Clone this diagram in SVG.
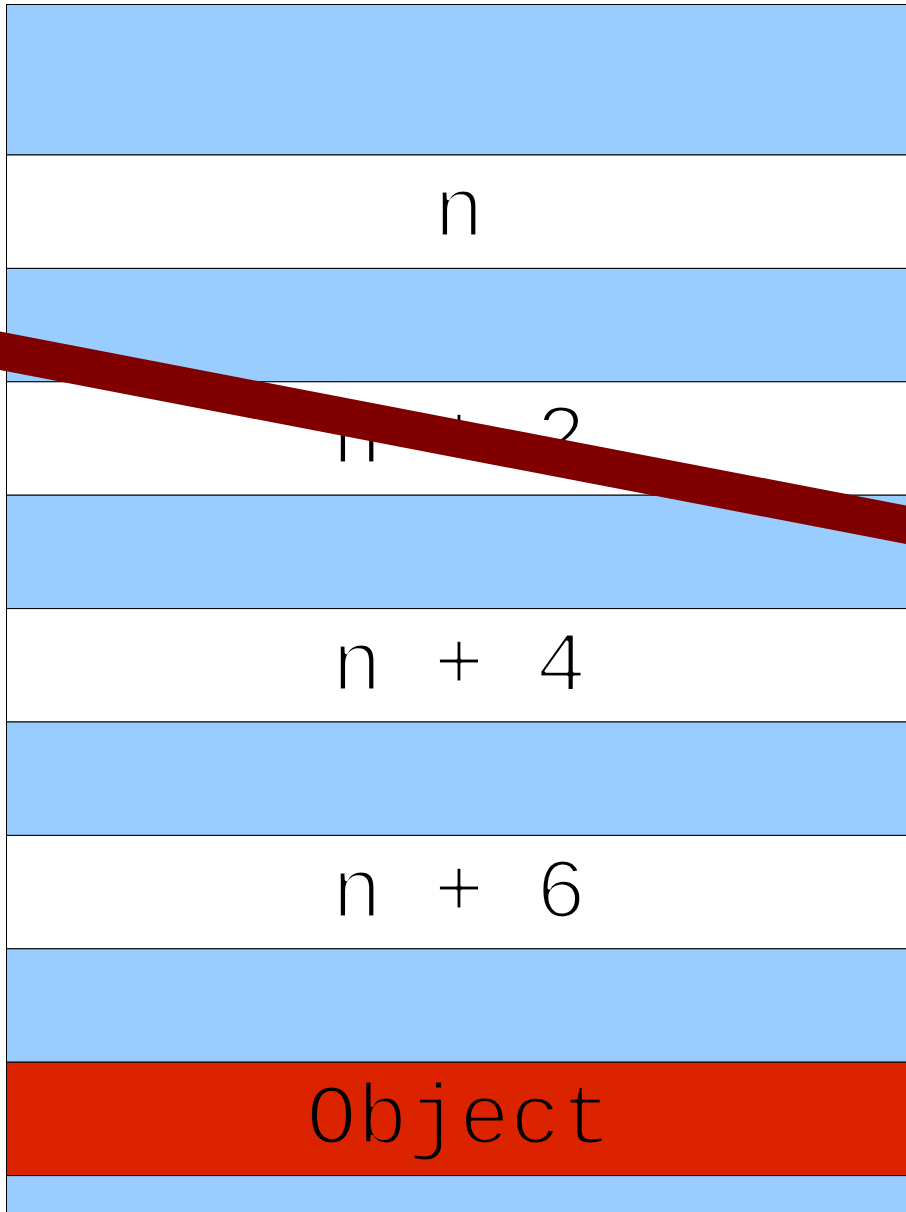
<svg xmlns="http://www.w3.org/2000/svg" width="906" height="1212" viewBox="0 0 906 1212">
<style>
.b{fill:#99ccff;stroke:#000;stroke-width:1}
.w{fill:#ffffff;stroke:#000;stroke-width:1}
.r{fill:#dc2300;stroke:#000;stroke-width:1}
.t{font-family:"Liberation Mono",monospace;font-size:85px;fill:#000;text-anchor:middle;stroke-width:3.2;stroke-linejoin:round}
.tw{stroke:#ffffff}
.tr{stroke:#dc2300}
</style>
<rect x="0" y="0" width="906" height="1212" fill="#fff"/>
<g id="row0"><rect class="b" x="6.5" y="4.5" width="910" height="150.5"/></g>
<g id="row1"><rect class="w" x="6.5" y="155" width="910" height="113.4"/><text class="t tw" x="459" y="236">n</text></g>
<g id="row2"><rect class="b" x="6.5" y="268.4" width="910" height="113.4"/></g>
<g id="row3"><rect class="w" x="6.5" y="381.8" width="910" height="113.4"/><text class="t tw" x="459" y="463">n + 2</text></g>
<g id="row4"><rect class="b" x="6.5" y="495.2" width="910" height="113.4"/></g>
<g id="row5"><rect class="w" x="6.5" y="608.6" width="910" height="113.4"/><text class="t tw" x="459" y="689.5">n + 4</text></g>
<g id="row6"><rect class="b" x="6.5" y="722" width="910" height="113.4"/></g>
<g id="row7"><rect class="w" x="6.5" y="835.4" width="910" height="113.4"/><text class="t tw" x="459" y="916.5">n + 6</text></g>
<g id="row8"><rect class="b" x="6.5" y="948.8" width="910" height="113.4"/></g>
<g id="row9"><rect class="r" x="6.5" y="1062.2" width="910" height="113.4"/><text class="t tr" x="459" y="1143">Object</text></g>
<g id="row10"><rect class="b" x="6.5" y="1175.6" width="910" height="60"/></g>
<g id="connectors"><line x1="-20" y1="347" x2="926" y2="528.5" stroke="#800000" stroke-width="37.8"/></g>
</svg>
